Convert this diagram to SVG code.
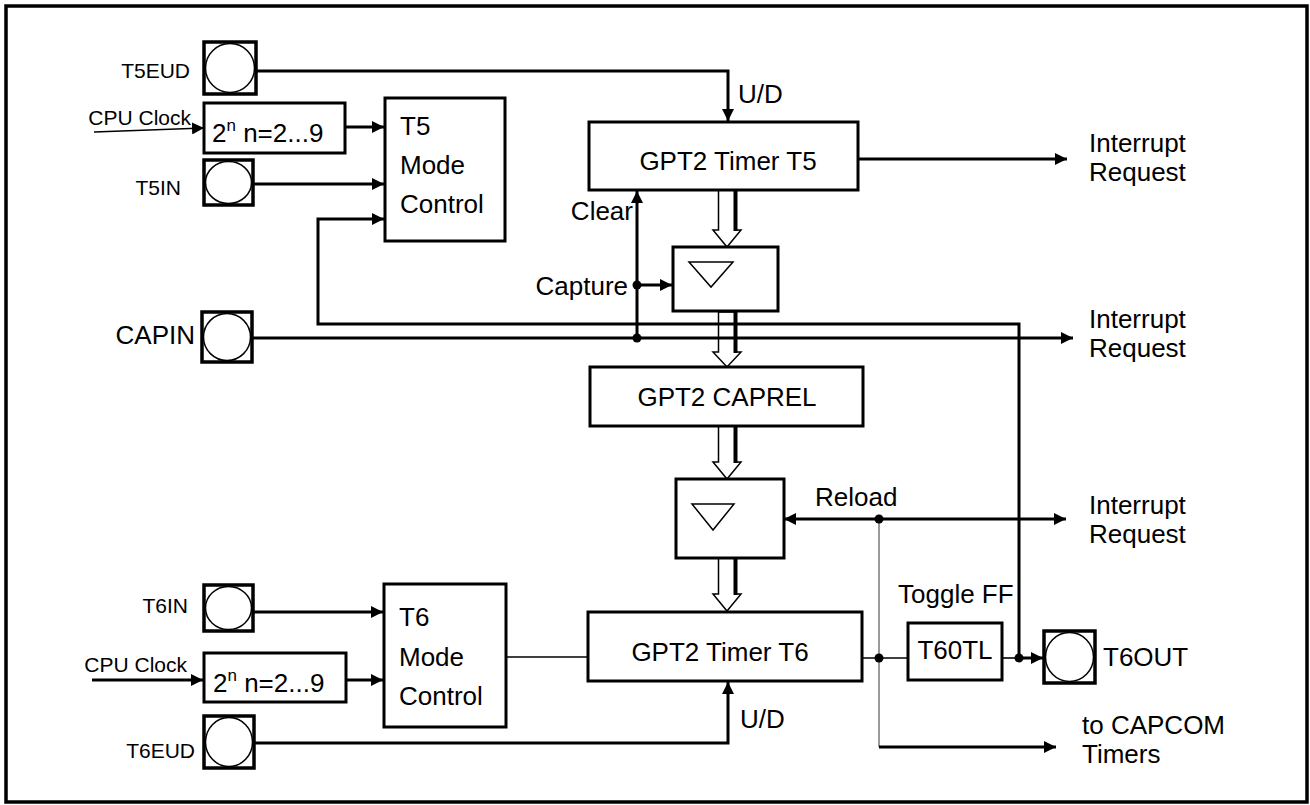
<svg xmlns="http://www.w3.org/2000/svg" width="1310" height="805" viewBox="0 0 1310 805">
<style>
text{font-family:"Liberation Sans",Arial,Helvetica,sans-serif;fill:#000}
.lbl{font-size:26px}
.sm{font-size:21px}
.box{fill:#fff;stroke:#000;stroke-width:3}
.pad{fill:#fff;stroke:#000;stroke-width:3.5}
.padc{fill:#fff;stroke:#000;stroke-width:1.5}
.w{fill:none;stroke:#000;stroke-width:3}
.thin{fill:none;stroke:#000;stroke-width:1.6}
.gray{fill:none;stroke:#808080;stroke-width:1.6}
.arr{marker-end:url(#ah)}
.tri{fill:none;stroke:#000;stroke-width:1.5}
.hol{fill:#fff;stroke:#000;stroke-width:1.5}
.holr{stroke:#000;stroke-width:4}
</style>
<defs>
<marker id="ah" markerUnits="userSpaceOnUse" markerWidth="13" markerHeight="12" refX="12" refY="6" orient="auto-start-reverse"><path d="M0,0 L12,6 L0,12 z" fill="#000"/></marker>
</defs>
<rect x="6" y="6" width="1301" height="796" fill="#fff" stroke="#000" stroke-width="3.5"/>

<g id="hollow-arrows">
<polygon class="hol" points="718.5,190 718.5,230 713,230 727,247 741,230 735.5,230 735.5,190"/>
<line class="holr" x1="735.5" y1="190" x2="735.5" y2="231"/>
<polygon class="hol" points="718.5,312 718.5,352 713,352 727,367 741,352 735.5,352 735.5,312"/>
<line class="holr" x1="735.5" y1="312" x2="735.5" y2="353"/>
<polygon class="hol" points="718.5,426 718.5,462 713,462 727,479 741,462 735.5,462 735.5,426"/>
<line class="holr" x1="735.5" y1="426" x2="735.5" y2="463"/>
<polygon class="hol" points="718.5,558 718.5,594 713,594 727,611 741,594 735.5,594 735.5,558"/>
<line class="holr" x1="735.5" y1="558" x2="735.5" y2="595"/>
</g>

<g id="connectors">
<path class="w arr" d="M256,71 H728 V121"/>
<path class="thin arr" d="M94,132 L204,128"/>
<path class="w arr" d="M345,127 H384"/>
<path class="w arr" d="M253,184 H384"/>
<path class="w arr" d="M1019,658 V324 H318 V219 H384"/>
<path class="w arr" d="M858,159 H1067"/>
<path class="w arr" d="M252,338 H1073"/>
<path class="w arr" d="M637,338 V191"/>
<path class="w arr" d="M637,285 H672"/>
<path class="w" d="M784,519 H1066" marker-start="url(#ah)" marker-end="url(#ah)"/>
<path class="gray" d="M879,519 V747"/>
<path class="w arr" d="M879,747 H1056"/>
<path class="w arr" d="M253,612 H383"/>
<path class="w arr" d="M92,680 H203"/>
<path class="w arr" d="M346,680 H383"/>
<path class="thin" d="M506,657 H588"/>
<path class="thin" d="M862,658 H908"/>
<path class="thin" d="M1002,658 H1019"/>
<path class="w arr" d="M1019,658 H1043"/>
<path class="w arr" d="M254,743 H728 V682"/>
</g>

<g id="dots">
<circle cx="637" cy="285" r="4.5"/>
<circle cx="637" cy="338" r="4.5"/>
<circle cx="879" cy="519" r="4.5"/>
<circle cx="879" cy="658" r="4.5"/>
<circle cx="1019" cy="658" r="4.5"/>
</g>

<g id="T5EUD"><rect class="pad" x="204" y="42" width="52" height="52"/><ellipse class="padc" cx="230" cy="68" rx="24.5" ry="24.5"/><text class="sm" x="190" y="78" text-anchor="end">T5EUD</text></g>
<g id="T5CLK"><rect class="box" x="204" y="103" width="141" height="50"/><text class="lbl" x="212" y="142">2<tspan font-size="17" dy="-11">n</tspan><tspan dy="11"> n=2...9</tspan></text><text class="sm" x="191" y="125" text-anchor="end">CPU Clock</text></g>
<g id="T5IN"><rect class="pad" x="204" y="160" width="49" height="45"/><ellipse class="padc" cx="228.5" cy="182.5" rx="23" ry="21"/><text class="sm" x="181" y="195" text-anchor="end">T5IN</text></g>
<g id="T5MC"><rect class="box" x="385" y="98" width="120" height="143"/><text class="lbl" x="400" y="135">T5</text><text class="lbl" x="400" y="174">Mode</text><text class="lbl" x="400" y="213">Control</text></g>
<g id="T5"><rect class="box" x="589" y="122" width="269" height="68"/><text class="lbl" x="728" y="170" text-anchor="middle">GPT2 Timer T5</text></g>
<g id="CAPBOX"><rect class="box" x="673" y="247" width="105" height="64"/><polygon class="tri" points="689,262 733,262 711,287"/></g>
<g id="CAPIN"><rect class="pad" x="202" y="312" width="50" height="50"/><ellipse class="padc" cx="227" cy="337" rx="23.5" ry="23.5"/><text class="lbl" x="195" y="344" text-anchor="end">CAPIN</text></g>
<g id="CAPREL"><rect class="box" x="590" y="367" width="273" height="59"/><text class="lbl" x="727" y="406" text-anchor="middle">GPT2 CAPREL</text></g>
<g id="RELBOX"><rect class="box" x="676" y="479" width="108" height="79"/><polygon class="tri" points="692,504 734,504 713,530"/></g>
<g id="T6IN"><rect class="pad" x="204" y="585" width="49" height="46"/><ellipse class="padc" cx="228.5" cy="608" rx="23" ry="21.5"/><text class="sm" x="188" y="613" text-anchor="end">T6IN</text></g>
<g id="T6CLK"><rect class="box" x="204" y="653" width="142" height="49"/><text class="lbl" x="213" y="692">2<tspan font-size="17" dy="-11">n</tspan><tspan dy="11"> n=2...9</tspan></text><text class="sm" x="187" y="672" text-anchor="end">CPU Clock</text></g>
<g id="T6MC"><rect class="box" x="384" y="584" width="122" height="143"/><text class="lbl" x="399" y="626">T6</text><text class="lbl" x="399" y="666">Mode</text><text class="lbl" x="399" y="705">Control</text></g>
<g id="T6"><rect class="box" x="588" y="612" width="274" height="69"/><text class="lbl" x="720" y="661" text-anchor="middle">GPT2 Timer T6</text></g>
<g id="T6EUD"><rect class="pad" x="204" y="716" width="50" height="52"/><ellipse class="padc" cx="229" cy="742" rx="23.5" ry="24.5"/><text class="sm" x="195" y="758" text-anchor="end">T6EUD</text></g>
<g id="T60TL"><rect class="box" x="908" y="623" width="94" height="57"/><text class="lbl" x="955" y="659" text-anchor="middle">T60TL</text></g>
<g id="T6OUT"><rect class="pad" x="1044" y="631" width="51" height="52"/><ellipse class="padc" cx="1069.5" cy="657" rx="24" ry="24.5"/><text class="lbl" x="1103" y="666">T6OUT</text></g>

<g id="labels">
<text class="lbl" x="738" y="103" font-size="24">U/D</text>
<text class="lbl" x="740" y="728">U/D</text>
<text class="lbl" x="633" y="220" text-anchor="end">Clear</text>
<text class="lbl" x="628" y="295" text-anchor="end">Capture</text>
<text class="lbl" x="815" y="506">Reload</text>
<text class="lbl" x="898" y="603">Toggle FF</text>
<text class="lbl" x="1089" y="152">Interrupt</text>
<text class="lbl" x="1089" y="181">Request</text>
<text class="lbl" x="1089" y="328">Interrupt</text>
<text class="lbl" x="1089" y="357">Request</text>
<text class="lbl" x="1089" y="514">Interrupt</text>
<text class="lbl" x="1089" y="543">Request</text>
<text class="lbl" x="1082" y="734">to CAPCOM</text>
<text class="lbl" x="1082" y="763">Timers</text>
</g>
</svg>
